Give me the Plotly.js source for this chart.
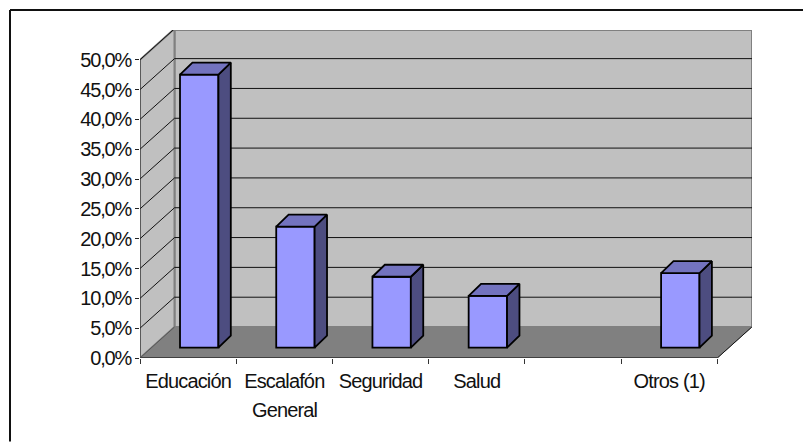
<!DOCTYPE html>
<html>
<head>
<meta charset="utf-8">
<script src="https://cdn.plot.ly/plotly-3.0.1.min.js"></script>
<style>
html,body{margin:0;padding:0;background:#fff;overflow:hidden}
.xtick text,.annotation text{letter-spacing:-0.85px}
.ytick text{letter-spacing:-1.2px}
</style>
</head>
<body>
<div id="chart" style="width:803px;height:442px"></div>
<script>
// Data
const categories = ['Educación', 'Escalafón General', 'Seguridad', 'Salud', '', 'Otros (1)'];
const values = [45.8, 20.3, 11.9, 8.7, null, 12.5];
const tickLabels = ['Educación', 'Escalafón', 'Seguridad', 'Salud', '', 'Otros (1)'];
const yTicks = [0, 5, 10, 15, 20, 25, 30, 35, 40, 45, 50];
const yTickLabels = ['0,0%', '5,0%', '10,0%', '15,0%', '20,0%', '25,0%', '30,0%', '35,0%', '40,0%', '45,0%', '50,0%'];

// Layout geometry (pixels)
const L = 140, R = 752, T = 30, B = 358.3, W = 803, H = 442;
const pxX = 577.3 / 6, pxY = 5.97;
const xMax = (R - L) / pxX, yMax = (B - T) / pxY;
const wallDX = 34.5 / pxX, wallDY = 31 / pxY;       // depth of the floor
const nCat = categories.length;
const barShiftX = 11.1 / pxX, barBase = 10.3 / pxY;  // bar's position inside the floor
const barW = 38.4 / pxX, depthX = 12.4 / pxX, depthY = 12 / pxY;
const pX = px => (px - L) / (R - L), pY = py => (B - py) / (B - T);

const barX = categories.map((c, i) => i + 0.5 + barShiftX);

// Side and top faces of the bars
const sideX = [], sideY = [], topX = [], topY = [];
values.forEach((v, i) => {
  if (v === null) return;
  const r = barX[i] + barW / 2, l = barX[i] - barW / 2, t = barBase + v;
  sideX.push(r, r + depthX, r + depthX, r, r, null);
  sideY.push(barBase, barBase + depthY, t + depthY, t, barBase, null);
  topX.push(l, l + depthX, r + depthX, r, l, null);
  topY.push(t, t + depthY, t + depthY, t, t, null);
});

const poly = (pts, fill, line, w) => ({
  type: 'path', xref: 'x', yref: 'y', layer: 'below',
  path: 'M' + pts.map(p => p[0] + ',' + p[1]).join('L') + 'Z',
  fillcolor: fill, line: {color: line, width: w}
});
const seg = (x0, y0, x1, y1, color, w) => ({
  type: 'line', xref: 'x', yref: 'y', layer: 'below', x0, y0, x1, y1, line: {color, width: w}
});

const shapes = [
  poly([[wallDX, wallDY], [xMax, wallDY], [xMax, yMax], [wallDX, yMax]], '#C0C0C0', '#808080', 2),
  poly([[0, 0], [0, 50], [wallDX, 50 + wallDY], [wallDX, wallDY]], '#C0C0C0', '#808080', 2),
  poly([[0, 0], [nCat, 0], [nCat + wallDX, wallDY], [wallDX, wallDY]], '#808080', '#808080', 1)
];
yTicks.forEach(v => {
  if (v > 0) {
    shapes.push(seg(wallDX, v + wallDY, xMax, v + wallDY, '#111111', 1));
    shapes.push(seg(0, v, wallDX, v + wallDY, '#111111', 1));
  }
});
shapes.push(seg(0, 0, nCat, 0, '#000000', 1.2));
shapes.push(seg(nCat, 0, nCat + wallDX, wallDY, '#111111', 1));
shapes.push(seg(0, 0, wallDX, wallDY, '#555555', 1));
shapes.push(seg(0, 0, 0, 50, '#333333', 1));
// outer frame
shapes.push({type: 'line', xref: 'paper', yref: 'paper', x0: pX(10), y0: pY(10), x1: pX(W), y1: pY(10), line: {color: '#111', width: 2}});
shapes.push({type: 'line', xref: 'paper', yref: 'paper', x0: pX(10), y0: pY(10), x1: pX(10), y1: pY(H), line: {color: '#111', width: 2}});

const font = {family: '"Liberation Sans", Arial, sans-serif', size: 20, color: '#111'};

const traces = [
  {type: 'bar', x: barX, y: values, base: barBase, width: barW, hoverinfo: 'skip',
   marker: {color: '#9999FF', line: {color: '#000', width: 1.8}}, showlegend: false},
  {type: 'scatter', mode: 'lines', x: sideX, y: sideY, fill: 'toself', fillcolor: '#4D4D80',
   line: {color: '#000', width: 1.8}, hoverinfo: 'skip', showlegend: false, cliponaxis: false},
  {type: 'scatter', mode: 'lines', x: topX, y: topY, fill: 'toself', fillcolor: '#7373BF',
   line: {color: '#000', width: 1.8}, hoverinfo: 'skip', showlegend: false, cliponaxis: false}
];

const layout = {
  width: W, height: H,
  margin: {l: L, r: W - R, t: T, b: H - B, pad: 0},
  paper_bgcolor: '#fff', plot_bgcolor: 'rgba(0,0,0,0)',
  font, showlegend: false, bargap: 0,
  xaxis: {
    range: [0, xMax], fixedrange: true, showgrid: false, zeroline: false, showline: false,
    tickmode: 'array', tickvals: categories.map((c, i) => i + 0.5), ticktext: tickLabels,
    ticks: '', ticklen: 0, ticklabelstandoff: 9, tickangle: 0, tickfont: font,
    minor: {tickmode: 'linear', tick0: 0, dtick: 1, ticks: 'outside', ticklen: 5, tickwidth: 1, tickcolor: '#333', showgrid: false}
  },
  yaxis: {
    range: [0, yMax], fixedrange: true, showgrid: false, zeroline: false, showline: false,
    tickmode: 'array', tickvals: yTicks, ticktext: yTickLabels,
    ticks: 'outside', ticklen: 4, tickwidth: 1, tickcolor: '#222', tickfont: font, ticklabelstandoff: 0
  },
  shapes,
  annotations: [{
    xref: 'x', yref: 'paper', x: 1.5, y: pY(410), text: 'General', showarrow: false,
    font, xanchor: 'center', yanchor: 'middle'
  }]
};

Plotly.newPlot('chart', traces, layout, {displayModeBar: false, staticPlot: true});
</script>
</body>
</html>
